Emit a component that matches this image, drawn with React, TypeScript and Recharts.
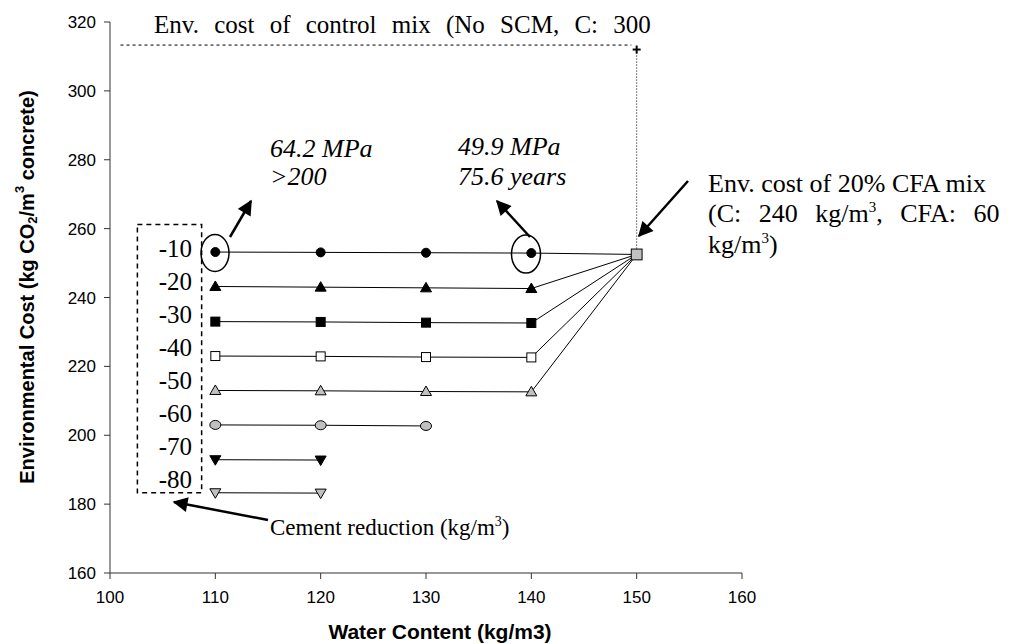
import React from 'react';
import {
  LineChart,
  Line,
  XAxis,
  YAxis,
  ReferenceLine,
  ReferenceArea,
} from 'recharts';

// water content (kg/m3) of the reduced-cement mixes
const waterContent = [110, 120, 130, 140];

// environmental cost per cement reduction (kg CO2/m3 concrete)
const cost10 = [253.2, 253.1, 253.0, 252.9];
const cost20 = [243.2, 243.0, 242.8, 242.6];
const cost30 = [233.0, 232.9, 232.7, 232.6];
const cost40 = [223.0, 222.9, 222.7, 222.6];
const cost50 = [213.0, 212.9, 212.7, 212.6];
const cost60 = [203.0, 202.9, 202.7];
const cost70 = [192.9, 192.8];
const cost80 = [183.3, 183.2];

// reference mixes
const cfaWater = 150;
const cfaCost = 252.5;
const controlCost = 312.0;
const controlLineY = 313.3;
const controlLineStart = 101;

// dashed "cement reduction" box
const boxX = [102.6, 108.7];
const boxY = [183.3, 261.2];

const reductionLabels = ['-10', '-20', '-30', '-40', '-50', '-60', '-70', '-80'];
const xTicks = [100, 110, 120, 130, 140, 150, 160];
const yTicks = [160, 180, 200, 220, 240, 260, 280, 300, 320];

const GREY = '#c0c0c0';
const SERIF = '"Liberation Serif", "Times New Roman", serif';
const SANS = '"Liberation Sans", Arial, sans-serif';

type Shape = 'circle' | 'ellipse' | 'square' | 'triangle' | 'down' | 'plus';

interface SeriesDef {
  name: string;
  values: number[];
  shape: Shape;
  fill: string;
  toCfa: boolean;
}

const SERIES: SeriesDef[] = [
  { name: '-10', values: cost10, shape: 'circle', fill: '#000', toCfa: true },
  { name: '-20', values: cost20, shape: 'triangle', fill: '#000', toCfa: true },
  { name: '-30', values: cost30, shape: 'square', fill: '#000', toCfa: true },
  { name: '-40', values: cost40, shape: 'square', fill: '#fff', toCfa: true },
  { name: '-50', values: cost50, shape: 'triangle', fill: GREY, toCfa: true },
  { name: '-60', values: cost60, shape: 'ellipse', fill: GREY, toCfa: false },
  { name: '-70', values: cost70, shape: 'down', fill: '#000', toCfa: false },
  { name: '-80', values: cost80, shape: 'down', fill: GREY, toCfa: false },
];

function Marker({ cx, cy, shape, fill, size = 1 }: { cx: number; cy: number; shape: Shape; fill: string; size?: number }) {
  const s = size;
  const common = { fill, stroke: '#000', strokeWidth: 1 };
  switch (shape) {
    case 'circle':
      return <circle cx={cx} cy={cy} r={4.5 * s} {...common} />;
    case 'ellipse':
      return <ellipse cx={cx} cy={cy} rx={5.5 * s} ry={4.5 * s} {...common} />;
    case 'square':
      return <rect x={cx - 4.5 * s} y={cy - 4.5 * s} width={9 * s} height={9 * s} {...common} />;
    case 'triangle':
      return <polygon points={`${cx},${cy - 5.5} ${cx + 5.5},${cy + 4} ${cx - 5.5},${cy + 4}`} {...common} />;
    case 'down':
      return <polygon points={`${cx},${cy + 5.5} ${cx + 5.5},${cy - 4} ${cx - 5.5},${cy - 4}`} {...common} />;
    case 'plus':
      return (
        <g stroke="#000" strokeWidth={2}>
          <line x1={cx - 4} y1={cy} x2={cx + 4} y2={cy} />
          <line x1={cx} y1={cy - 4} x2={cx} y2={cy + 4} />
        </g>
      );
  }
  return null;
}

function makeDot(shape: Shape, fill: string, size = 1) {
  return (props: any) => {
    const { cx, cy, payload } = props;
    const key = `${shape}-${fill}-${cx}-${cy}`;
    if (cx == null || cy == null || payload?.tail) return <g key={key} />;
    return (
      <g key={key}>
        <Marker cx={cx} cy={cy} shape={shape} fill={fill} size={size} />
      </g>
    );
  };
}

function seriesData(s: SeriesDef) {
  const pts: { x: number; y: number; tail?: boolean }[] = s.values.map((v, i) => ({ x: waterContent[i], y: v }));
  if (s.toCfa) pts.push({ x: cfaWater, y: cfaCost, tail: true });
  return pts;
}

const tickStyle = { fontSize: 17, fill: '#000', fontFamily: SANS };

const textBase: React.CSSProperties = {
  position: 'absolute',
  fontFamily: SERIF,
  fontSize: 25,
  lineHeight: '30px',
  color: '#000',
  whiteSpace: 'nowrap',
};

const sup: React.CSSProperties = { fontSize: 15, lineHeight: 0 };

export default function App() {
  return (
    <div style={{ position: 'absolute', left: 0, top: 0, width: 1014, height: 644, background: '#fff', overflow: 'hidden' }}>
      <LineChart width={1014} height={644} margin={{ top: 22, right: 272, bottom: 0, left: 0 }}>
        <XAxis
          type="number"
          dataKey="x"
          domain={[100, 160]}
          ticks={xTicks}
          allowDataOverflow
          height={71}
          tick={tickStyle}
          tickSize={6}
          tickMargin={12}
          stroke="#333"
        />
        <YAxis
          type="number"
          dataKey="y"
          domain={[160, 320]}
          ticks={yTicks}
          allowDataOverflow
          width={110}
          tick={tickStyle}
          tickSize={6}
          tickMargin={8}
          stroke="#333"
        />
        <ReferenceArea
          x1={boxX[0]}
          x2={boxX[1]}
          y1={boxY[0]}
          y2={boxY[1]}
          fill="none"
          stroke="#000"
          strokeWidth={1.5}
          strokeDasharray="5 4"
          ifOverflow="visible"
        />
        <ReferenceLine
          segment={[{ x: controlLineStart, y: controlLineY }, { x: cfaWater - 0.5, y: controlLineY }]}
          stroke="#000"
          strokeWidth={1}
          strokeDasharray="3 3"
          ifOverflow="visible"
        />
        <ReferenceLine
          segment={[{ x: cfaWater, y: controlCost }, { x: cfaWater, y: cfaCost }]}
          stroke="#000"
          strokeWidth={1}
          strokeDasharray="1 2"
          ifOverflow="visible"
        />
        {SERIES.map((s) => (
          <Line
            key={s.name}
            data={seriesData(s)}
            dataKey="y"
            name={s.name}
            stroke="#000"
            strokeWidth={1}
            dot={makeDot(s.shape, s.fill)}
            activeDot={false}
            isAnimationActive={false}
          />
        ))}
        <Line
          data={[{ x: cfaWater, y: cfaCost }]}
          dataKey="y"
          name="20% CFA mix"
          stroke="none"
          dot={makeDot('square', GREY, 1.2)}
          activeDot={false}
          isAnimationActive={false}
        />
        <Line
          data={[{ x: cfaWater, y: controlCost }]}
          dataKey="y"
          name="control mix"
          stroke="none"
          dot={makeDot('plus', '#000')}
          activeDot={false}
          isAnimationActive={false}
        />
      </LineChart>

      {/* annotations */}
      <svg width={1014} height={644} style={{ position: 'absolute', left: 0, top: 0, pointerEvents: 'none' }}>
        <defs>
          <marker id="arrow" viewBox="0 0 10 10" refX="9" refY="5" markerWidth="6.5" markerHeight="6" orient="auto">
            <path d="M0,0 L10,5 L0,10 z" fill="#000" />
          </marker>
        </defs>
        <ellipse cx={215} cy={253} rx={14} ry={18.5} fill="none" stroke="#000" strokeWidth={1.5} />
        <ellipse cx={526} cy={254} rx={14.5} ry={19} fill="none" stroke="#000" strokeWidth={1.5} />
        <line x1={230} y1={237} x2={251} y2={201} stroke="#000" strokeWidth={2.5} markerEnd="url(#arrow)" />
        <line x1={530} y1={237} x2={497} y2={201} stroke="#000" strokeWidth={2.5} markerEnd="url(#arrow)" />
        <line x1={688} y1={181} x2={639} y2={236} stroke="#000" strokeWidth={2.5} markerEnd="url(#arrow)" />
        <line x1={268} y1={520} x2={174} y2={502} stroke="#000" strokeWidth={2.5} markerEnd="url(#arrow)" />
        <text
          transform="rotate(-90, 27, 287)"
          x={27}
          y={287}
          textAnchor="middle"
          dominantBaseline="central"
          fontFamily={SANS}
          fontWeight="bold"
          fontSize={20}
        >
          Environmental Cost (kg CO<tspan fontSize={13} dy={5}>2</tspan>
          <tspan dy={-5}>/m</tspan>
          <tspan fontSize={13} dy={-8}>3</tspan>
          <tspan dy={8}> concrete)</tspan>
        </text>
        <text x={440} y={639} textAnchor="middle" fontFamily={SANS} fontWeight="bold" fontSize={21}>
          Water Content (kg/m3)
        </text>
      </svg>

      <div style={{ ...textBase, left: 154, top: 10, wordSpacing: 9 }}>Env. cost of control mix (No SCM, C: 300</div>

      <div style={{ ...textBase, fontSize: 26, left: 708, top: 169 }}>Env. cost of 20% CFA mix</div>
      <div style={{ ...textBase, fontSize: 26, left: 708, top: 199, wordSpacing: 11 }}>
        (C: 240 kg/m<sup style={sup}>3</sup>, CFA: 60
      </div>
      <div style={{ ...textBase, fontSize: 26, left: 708, top: 230 }}>
        kg/m<sup style={sup}>3</sup>)
      </div>

      <div style={{ ...textBase, fontSize: 26, left: 270, top: 134, fontStyle: 'italic' }}>64.2 MPa</div>
      <div style={{ ...textBase, fontSize: 26, left: 270, top: 162, fontStyle: 'italic' }}>&gt;200</div>
      <div style={{ ...textBase, fontSize: 26, left: 458, top: 132, fontStyle: 'italic' }}>49.9 MPa</div>
      <div style={{ ...textBase, fontSize: 26, left: 458, top: 162, fontStyle: 'italic' }}>75.6 years</div>

      {reductionLabels.map((t, i) => (
        <div key={t} style={{ ...textBase, left: 142, width: 50, textAlign: 'right', top: 234 + i * 33 }}>
          {t}
        </div>
      ))}

      <div style={{ ...textBase, fontSize: 23, left: 270, top: 513 }}>
        Cement reduction (kg/m<sup style={{ fontSize: 14, lineHeight: 0 }}>3</sup>)
      </div>
    </div>
  );
}
